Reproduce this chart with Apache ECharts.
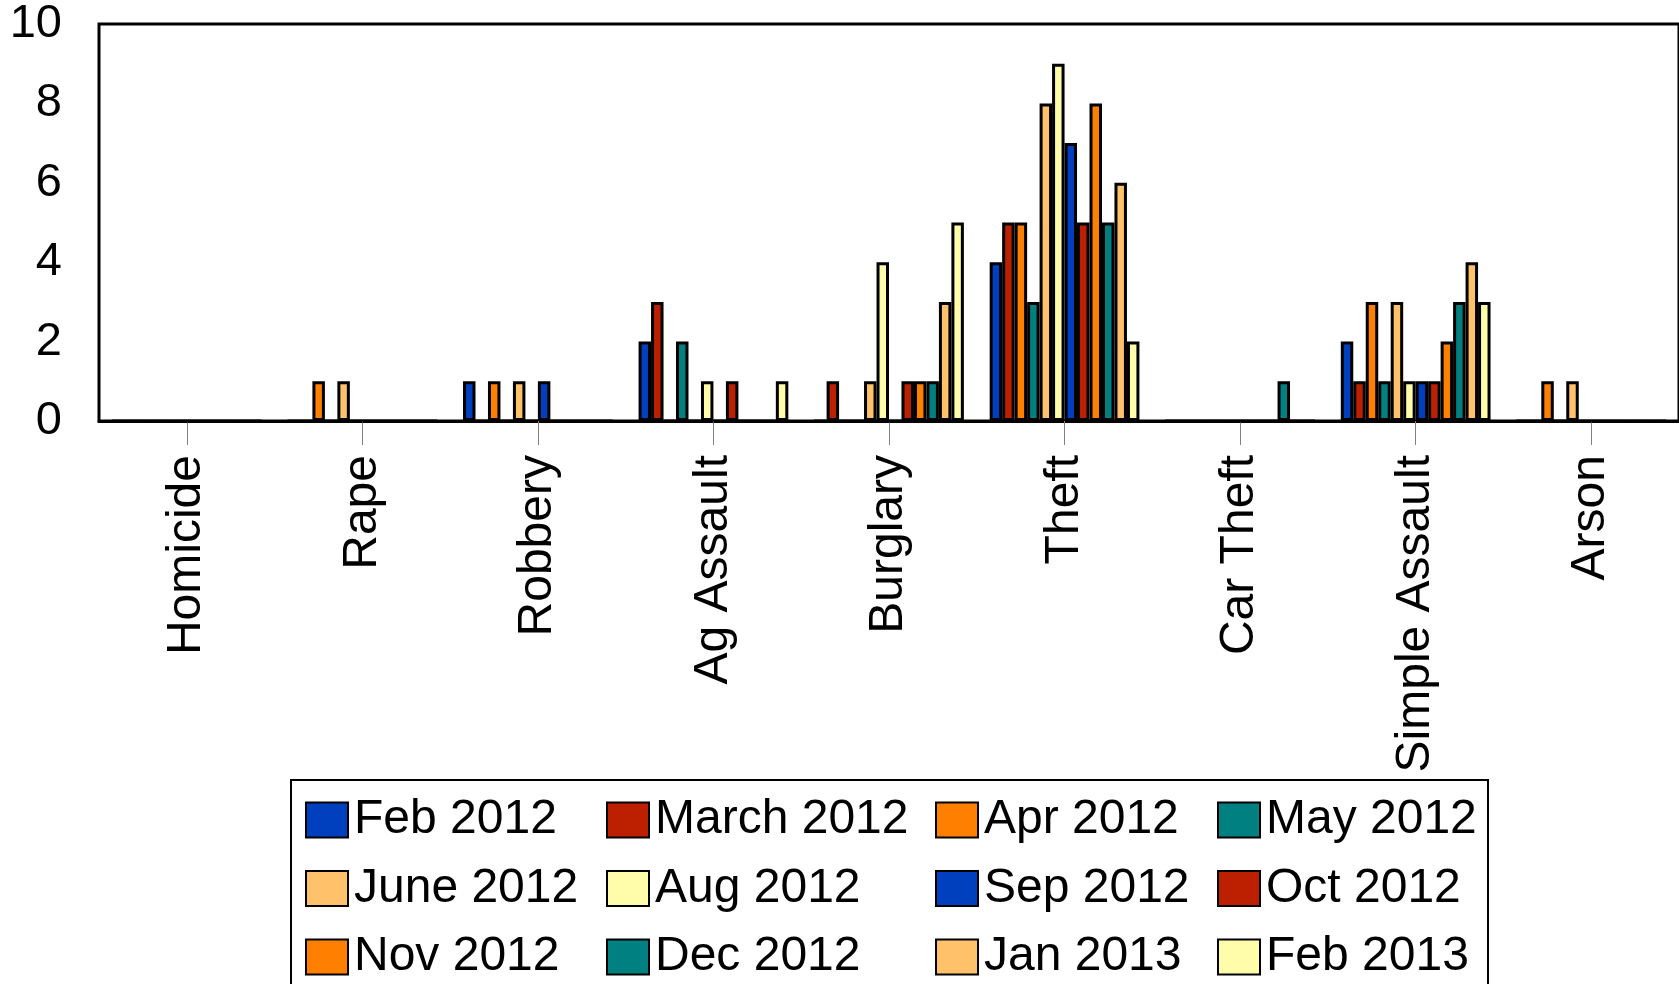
<!DOCTYPE html>
<html>
<head>
<meta charset="utf-8">
<script src="https://cdn.jsdelivr.net/npm/echarts@6/dist/echarts.min.js"></script>
<style>
html,body{margin:0;padding:0;background:#fff;}
#chart{width:1679px;height:984px;}
</style>
</head>
<body>
<div id="chart"></div>
<script>
const categories = ['Homicide','Rape','Robbery','Ag Assault','Burglary','Theft','Car Theft','Simple Assault','Arson'];
const seriesNames = ['Feb 2012','March 2012','Apr 2012','May 2012','June 2012','Aug 2012','Sep 2012','Oct 2012','Nov 2012','Dec 2012','Jan 2013','Feb 2013'];
const feb2012 = [0,0,1,2,0,4,0,2,0];
const mar2012 = [0,0,0,3,1,5,0,1,0];
const apr2012 = [0,1,1,0,0,5,0,3,1];
const may2012 = [0,0,0,2,0,3,0,1,0];
const jun2012 = [0,1,1,0,1,8,0,3,1];
const aug2012 = [0,0,0,1,4,9,0,1,0];
const sep2012 = [0,0,1,0,0,7,0,1,0];
const oct2012 = [0,0,0,1,1,5,0,1,0];
const nov2012 = [0,0,0,0,1,8,0,2,0];
const dec2012 = [0,0,0,0,1,5,1,3,0];
const jan2013 = [0,0,0,0,3,6,0,4,0];
const feb2013 = [0,0,0,1,5,2,0,3,0];
const yTicks = [0,2,4,6,8,10];
const values = [feb2012,mar2012,apr2012,may2012,jun2012,aug2012,sep2012,oct2012,nov2012,dec2012,jan2013,feb2013];
const colors = ['#0040BF','#BD2000','#FF8000','#008080','#FFC26B','#FFFDAA','#0040BF','#BD2000','#FF8000','#008080','#FFC26B','#FFFDAA'];

const FONT = "'Liberation Sans', Arial, sans-serif";
const FS = 48;

const chart = echarts.init(document.getElementById('chart'), null, {renderer:'canvas'});

const legendCols = [[0,4,8],[1,5,9],[2,6,10],[3,7,11]];
const legendLefts = [305, 606, 935, 1217];
const legends = legendCols.map((col, i) => ({
  orient: 'vertical',
  left: legendLefts[i],
  top: 796,
  height: 300,
  itemWidth: 42,
  itemHeight: 35,
  itemGap: 20.5,
  icon: 'rect',
  padding: 0,
  selectedMode: false,
  data: col.map(k => seriesNames[k]),
  itemStyle: {borderColor:'#000', borderWidth:2},
  textStyle: {fontFamily: FONT, fontSize: FS, color:'#000', lineHeight: 40, padding:[0,0,0,1]}
}));

const option = {
  animation: false,
  backgroundColor: '#fff',
  color: colors,
  grid: {left: 99, top: 24, width: 1585, height: 397, show: true, borderColor:'#000', borderWidth: 3, containLabel: false},
  legend: legends,
  xAxis: {
    type: 'category',
    data: categories,
    axisLine: {lineStyle: {color:'#000', width: 3}},
    axisTick: {show: true, alignWithLabel: true, length: 24, lineStyle: {color:'#808080', width: 1}},
    axisLabel: {rotate: 90, margin: 34, fontFamily: FONT, fontSize: FS, color:'#000', interval: 0},
    splitLine: {show:false}
  },
  yAxis: {
    type: 'value',
    min: 0, max: 10, interval: 2,
    axisLine: {show: false},
    axisTick: {show: false},
    splitLine: {show: false},
    axisLabel: {margin: 37, fontFamily: FONT, fontSize: 47, color:'#000',
      formatter: v => yTicks.includes(v) ? String(v) : ''}
  },
  graphic: [{
    type: 'rect', silent: true, z: 0,
    shape: {x: 291, y: 780, width: 1197, height: 260},
    style: {fill: 'none', stroke: '#000', lineWidth: 2}
  }],
  series: seriesNames.map((n, i) => ({
    name: n,
    type: 'bar',
    data: values[i],
    barGap: '0%',
    barCategoryGap: '14.7%',
    itemStyle: {color: colors[i], borderColor: '#000', borderWidth: 3}
  }))
};
chart.setOption(option);
</script>
</body>
</html>
